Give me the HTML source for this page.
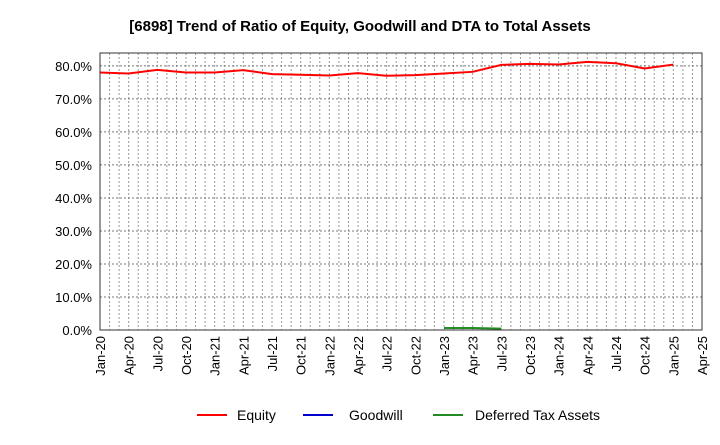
<!DOCTYPE html>
<html><head><meta charset="utf-8"><style>
body{margin:0;background:#fff;font-family:"Liberation Sans",sans-serif}
</style></head><body>
<svg width="720" height="440" xmlns="http://www.w3.org/2000/svg">
<text x="360" y="31" text-anchor="middle" font-size="15" font-weight="bold">[6898]  Trend of Ratio of Equity, Goodwill and DTA to Total Assets</text>
<g id="grid"></g><g id="axes"></g><g id="series"></g>
<rect x="100" y="53" width="602" height="277" fill="none" stroke="#333" stroke-width="1"/>
<g font-size="14">
<line x1="197" y1="415" x2="227" y2="415" stroke="#f00" stroke-width="2"/><text x="237" y="420">Equity</text>
<line x1="303" y1="415" x2="333" y2="415" stroke="#00c" stroke-width="2"/><text x="349" y="420">Goodwill</text>
<line x1="433" y1="415" x2="463" y2="415" stroke="#228b22" stroke-width="2"/><text x="475" y="420">Deferred Tax Assets</text>
</g>
</svg>
<script>
const xLabels=["Jan-20","Apr-20","Jul-20","Oct-20","Jan-21","Apr-21","Jul-21","Oct-21","Jan-22","Apr-22","Jul-22","Oct-22","Jan-23","Apr-23","Jul-23","Oct-23","Jan-24","Apr-24","Jul-24","Oct-24","Jan-25","Apr-25"];
const yTicks=[0,10,20,30,40,50,60,70,80];
const equity=[78.0,77.7,78.8,78.0,78.0,78.7,77.5,77.3,77.1,77.8,77.0,77.2,77.7,78.2,80.3,80.6,80.4,81.2,80.8,79.2,80.4];
const dtaStart=12;
const dta=[0.6,0.6,0.4];
const NS="http://www.w3.org/2000/svg";
const X0=100,X1=702,Y0=330,Y1=53,YMAX=83.9;
const xs=i=>X0+(X1-X0)*i/(xLabels.length-1);
const ys=v=>Y0-(Y0-Y1)*v/YMAX;
function mk(t,a,p){const e=document.createElementNS(NS,t);for(const k in a)e.setAttribute(k,a[k]);p.appendChild(e);return e;}
const grid=document.getElementById('grid'),axes=document.getElementById('axes'),ser=document.getElementById('series');
for(let m=1;m<(xLabels.length-1)*3;m++){const x=X0+(X1-X0)*m/((xLabels.length-1)*3);
const l=mk('line',{x1:x,x2:x,y1:Y1,y2:Y0,stroke:'#999','stroke-dasharray':'2,2','stroke-width':1},grid);

}
yTicks.forEach(v=>{const y=ys(v);
if(v>0){const l=mk('line',{x1:X0,x2:X1,y1:y,y2:y,stroke:'#777','stroke-dasharray':'2,2','stroke-width':1},grid);

}
const t=mk('text',{x:92,y:y+5,'text-anchor':'end','font-size':13},axes);t.textContent=v.toFixed(1)+'%';

});
xLabels.forEach((s,i)=>{const x=xs(i);
const t=mk('text',{x:x+5,y:336,'text-anchor':'end','font-size':13,transform:`rotate(-90 ${x+5} 336)`},axes);t.textContent=s;

});
const pe=mk('polyline',{points:equity.map((v,i)=>xs(i)+','+ys(v)).join(' '),fill:'none',stroke:'#f00','stroke-width':2},ser);


const pd=mk('polyline',{points:dta.map((v,i)=>xs(i+dtaStart)+','+ys(v)).join(' '),fill:'none',stroke:'#228b22','stroke-width':2},ser);


</script>
</body></html>
